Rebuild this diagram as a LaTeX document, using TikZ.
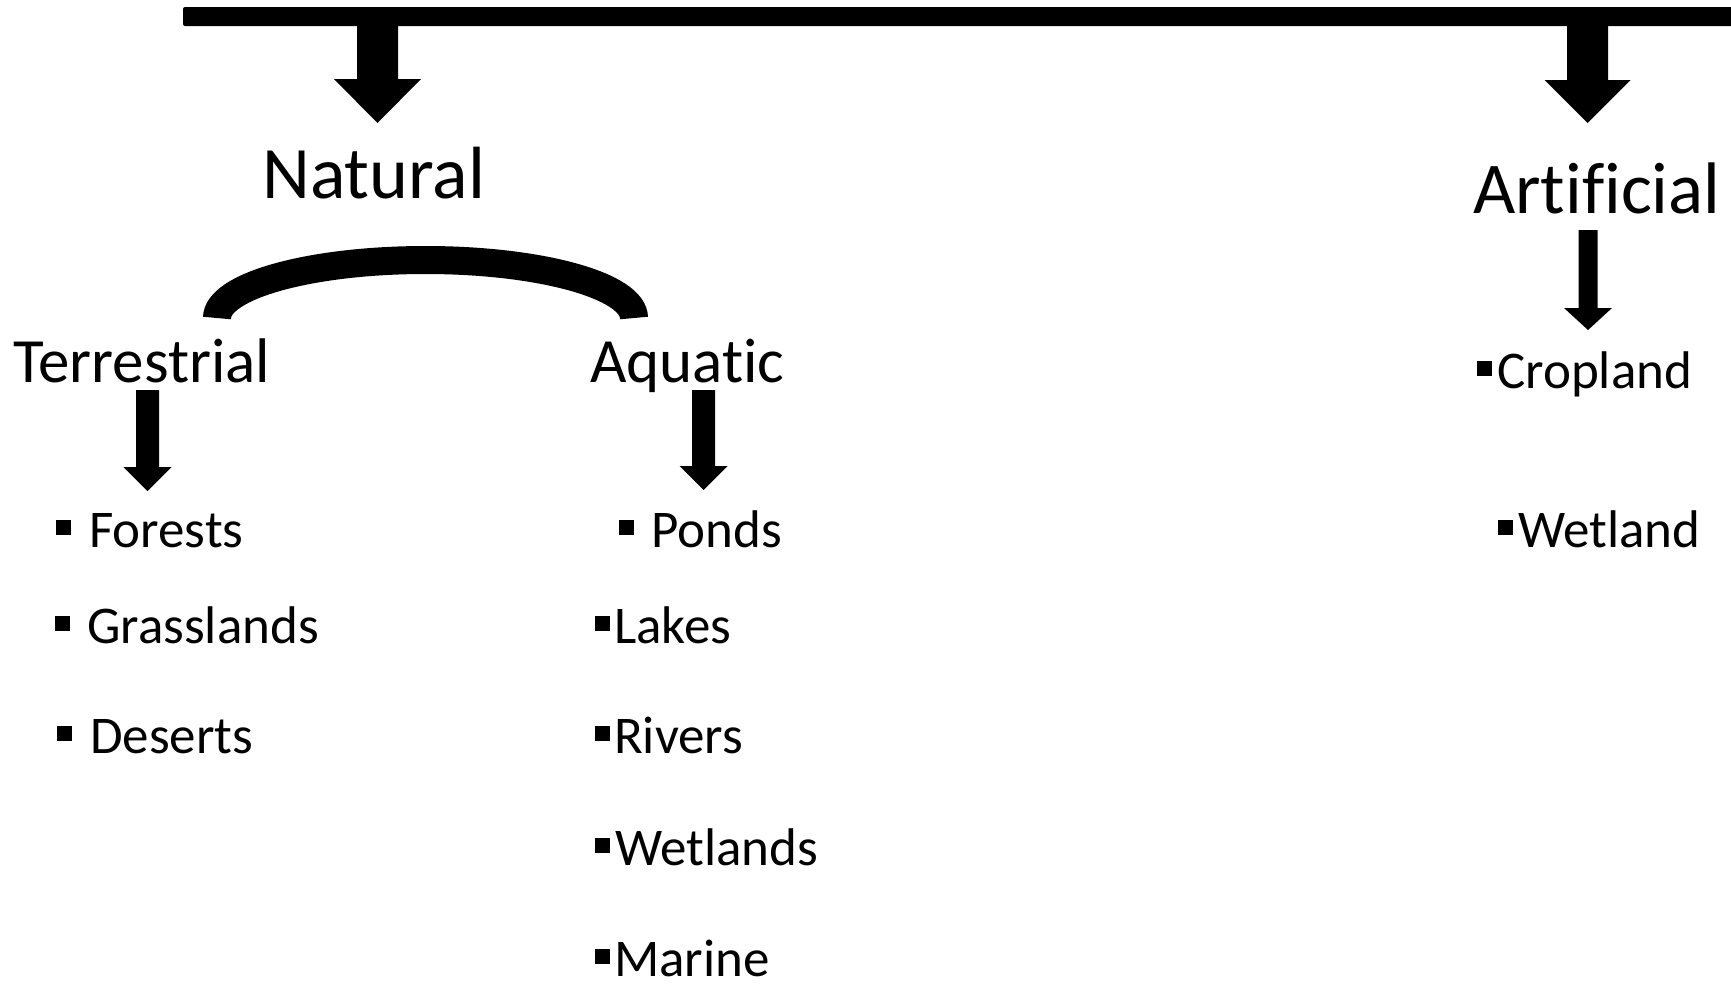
\documentclass[tikz,border=0pt]{standalone}
\usepackage{fontspec}
\setmainfont{Carlito}[RawFeature={-liga;-dlig;-clig;-calt}]
% block arrow: cx, ytop, yheadtop, ytip, stemhalf, headhalf
\newcommand\blkarrow[6]{\fill[black] ({#1-#5},#2) -- ({#1+#5},#2) -- ({#1+#5},#3) -- ({#1+#6},#3) -- (#1,#4) -- ({#1-#6},#3) -- ({#1-#5},#3) -- cycle;}
\newcommand\bul[1]{\rule[12pt]{15pt}{15pt}\hspace{#1pt}}
\begin{document}
\begin{tikzpicture}[x=1pt,y=-1pt,
  big/.style={inner sep=0pt, anchor=base west, font=\fontsize{74}{82}\selectfont},
  mid/.style={inner sep=0pt, anchor=base west, font=\fontsize{63}{72}\selectfont},
  item/.style={inner sep=0pt, anchor=base west, font=\fontsize{53}{60}\selectfont}]
\useasboundingbox (0,0) rectangle (1731,983);
% top bar
\fill[black, rounded corners=2pt] (183,7) rectangle (1745,26);
% arrows from bar
\blkarrow{377.5}{20}{79}{123}{20.5}{43.5}
\blkarrow{1587.5}{20}{80}{123}{20.5}{43}
% headings
\node[big] (natural) at (262,198) {Natural};
\node[big,font=\fontsize{73}{82}\selectfont] (artificial) at (1473,213) {Art\kern0pt if\kern0pt icial};
\node[mid] (terr) at (13,382) {Terrestrial};
\node[mid] (aqua) at (590,382) {Aquat\kern0pt ic};
% arc joining Terrestrial and Aquatic
\draw[line width=28pt] (217,318) arc[start angle=180, end angle=0, x radius=208.5pt, y radius=58pt];
% small arrows
\blkarrow{1588}{230}{308}{330}{9.5}{24}
\blkarrow{147.5}{390}{467}{491}{11.5}{24}
\blkarrow{703.5}{390}{466}{490}{11.5}{24}
% terrestrial items
\node[item] (forests) at (56,547) {\bul{18}Forests};
\node[item] (grass) at (55,643) {\bul{17}Grasslands};
\node[item] (deserts) at (57,753) {\bul{18}Deserts};
% aquatic items
\node[item] (ponds) at (619,547) {\bul{17}Ponds};
\node[item] (lakes) at (595,643) {\bul{4}Lakes};
\node[item] (rivers) at (595,753) {\bul{4}Rivers};
\node[item] (wetlands) at (595,865) {\bul{5}Wetlands};
\node[item] (marine) at (595,976) {\bul{4}Marine};
% artificial items
\node[item] (cropland) at (1477,388) {\bul{5}Cropland};
\node[item] (wetland) at (1498,547) {\bul{5}Wetland};
\end{tikzpicture}
\end{document}
